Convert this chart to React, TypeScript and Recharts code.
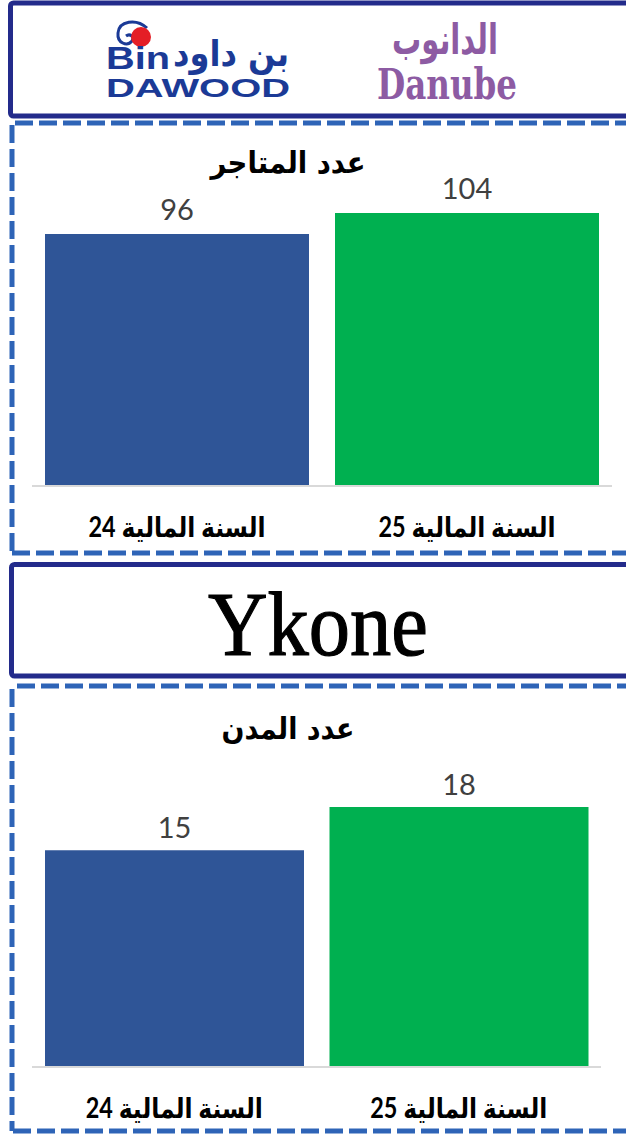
import { BarChart, Bar, XAxis, YAxis, Cell, LabelList } from 'recharts'

const years = ['السنة المالية 24', 'السنة المالية 25']
const storeCounts = [96, 104]
const cityCounts = [15, 18]
const barColors = ['#2f5597', '#00b050']

const storesData = years.map((name, i) => ({ name, value: storeCounts[i] }))
const citiesData = years.map((name, i) => ({ name, value: cityCounts[i] }))

const navy = '#232b8b'
const dashBlue = '#2e64b7'
const binBlue = '#1b3a96'
const danubePurple = '#8d5ba3'

// category label under each bar, squeezed to the reference width
const CatTick = (props: any) => {
  const { x, y, payload } = props
  return (
    <text
      x={x}
      y={y}
      dy={43}
      textAnchor="middle"
      direction="rtl"
      fontFamily="Lato, 'DejaVu Sans'"
      fontWeight="bold"
      fontSize={28}
      fill="#000"
      textLength={177}
      lengthAdjust="spacingAndGlyphs"
    >
      {payload.value}
    </text>
  )
}

function CountChart({
  data,
  max,
  height,
  margin,
  barSize,
  labelOffset,
}: {
  data: Array<{ name: string; value: number }>
  max: number
  height: number
  margin: { top: number; right: number; left: number; bottom: number }
  barSize: number
  labelOffset: number
}) {
  return (
    <BarChart width={626} height={height} data={data} margin={margin}>
      <YAxis hide domain={[0, max]} />
      <XAxis
        dataKey="name"
        height={64}
        axisLine={{ stroke: '#d9d9d9', strokeWidth: 2 }}
        tickLine={false}
        tick={<CatTick />}
        interval={0}
      />
      <Bar dataKey="value" barSize={barSize} isAnimationActive={false}>
        {data.map((_, i) => (
          <Cell key={i} fill={barColors[i]} />
        ))}
        <LabelList
          dataKey="value"
          position="top"
          offset={labelOffset}
          fill="#404040"
          fontSize={29}
          fontFamily="Lato"
        />
      </Bar>
    </BarChart>
  )
}

export default function App() {
  return (
    <div
      style={{
        position: 'absolute',
        left: 0,
        top: 0,
        width: 626,
        height: 1143,
        overflow: 'hidden',
        background: '#fff',
      }}
    >
      <svg width={626} height={1143} style={{ position: 'absolute', left: 0, top: 0 }}>
        {/* solid logo frames */}
        <rect x={10.5} y={3} width={700} height={113} rx={3} fill="none" stroke={navy} strokeWidth={5} />
        <rect x={11.5} y={564.5} width={700} height={111.5} rx={3} fill="none" stroke={navy} strokeWidth={5} />

        {/* dashed chart frames */}
        <g stroke={dashBlue} strokeWidth={5} strokeDasharray="18 6" fill="none">
          <line x1={15} y1={123} x2={640} y2={123} />
          <line x1={12} y1={125} x2={12} y2={553} />
          <line x1={12} y1={553} x2={640} y2={553} />
          <line x1={17} y1={686} x2={640} y2={686} />
          <line x1={12} y1={689} x2={12} y2={1131} />
          <line x1={13} y1={1131} x2={640} y2={1131} />
        </g>

        {/* Bin Dawood logo */}
        <path d="M147 28 C 136 18, 119 21, 118 33 C 117 43, 127 47, 132 41 C 135 37, 130 33, 126 36" fill="none" stroke={binBlue} strokeWidth={3} />
        <circle cx={141} cy={37} r={10} fill="#e41e26" />
        <text x={106} y={69} fontFamily="'Liberation Sans'" fontWeight="bold" fontSize={32} fill={binBlue} textLength={64} lengthAdjust="spacingAndGlyphs">
          Bin
        </text>
        <text x={231} y={66} textAnchor="middle" direction="rtl" fontFamily="'DejaVu Sans'" fontWeight="bold" fontSize={36} fill={binBlue} textLength={116} lengthAdjust="spacingAndGlyphs">
          بن داود
        </text>
        <text x={106} y={97} fontFamily="'Liberation Sans'" fontWeight="bold" fontSize={26} fill={binBlue} textLength={184} lengthAdjust="spacingAndGlyphs">
          DAWOOD
        </text>

        {/* Danube logo */}
        <text x={445} y={54} textAnchor="middle" direction="rtl" fontFamily="'DejaVu Sans'" fontWeight="bold" fontSize={42} fill={danubePurple} textLength={106} lengthAdjust="spacingAndGlyphs">
          الدانوب
        </text>
        <text x={447} y={99} textAnchor="middle" fontFamily="'DejaVu Serif'" fontWeight="bold" fontSize={42} fill={danubePurple} textLength={140} lengthAdjust="spacingAndGlyphs">
          Danube
        </text>

        {/* Ykone logo */}
        <text x={318} y={655} textAnchor="middle" fontFamily="'Liberation Serif'" fontSize={92} fill="#000" stroke="#000" strokeWidth={1.2} textLength={220} lengthAdjust="spacingAndGlyphs">
          Ykone
        </text>

        {/* chart titles */}
        <text x={288} y={173} textAnchor="middle" direction="rtl" fontFamily="'DejaVu Sans'" fontWeight="bold" fontSize={30} fill="#000" textLength={155} lengthAdjust="spacingAndGlyphs">
          عدد المتاجر
        </text>
        <text x={288} y={739} textAnchor="middle" direction="rtl" fontFamily="'DejaVu Sans'" fontWeight="bold" fontSize={30} fill="#000" textLength={133} lengthAdjust="spacingAndGlyphs">
          عدد المدن
        </text>
      </svg>

      <div style={{ position: 'absolute', left: 0, top: 130 }}>
        <CountChart
          data={storesData}
          max={120}
          height={420}
          margin={{ top: 41, right: 14, left: 32, bottom: 0 }}
          barSize={264}
          labelOffset={14}
        />
      </div>

      <div style={{ position: 'absolute', left: 0, top: 692 }}>
        <CountChart
          data={citiesData}
          max={20}
          height={439}
          margin={{ top: 86, right: 25, left: 32, bottom: 0 }}
          barSize={259}
          labelOffset={12}
        />
      </div>
    </div>
  )
}
